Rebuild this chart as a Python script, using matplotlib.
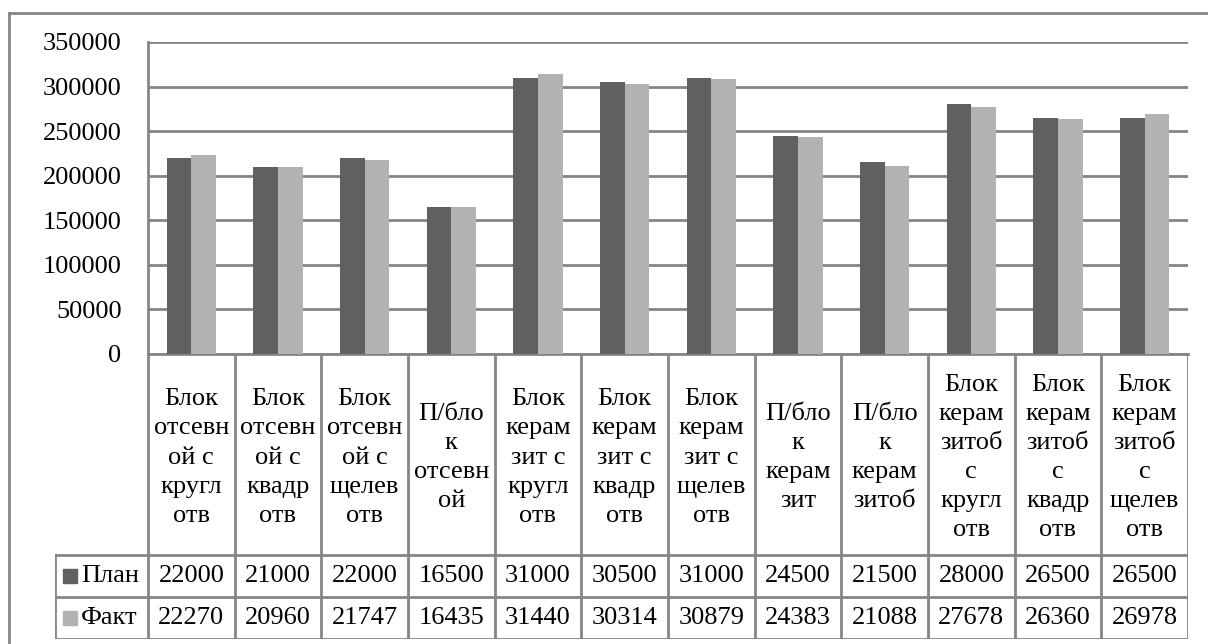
import matplotlib.pyplot as plt
from matplotlib.patches import Rectangle
from matplotlib.lines import Line2D
import numpy as np

plt.rcParams['font.family'] = ['Liberation Serif', 'DejaVu Serif']

categories = [
    'Блок\nотсевн\nой с\nкругл\nотв',
    'Блок\nотсевн\nой с\nквадр\nотв',
    'Блок\nотсевн\nой с\nщелев\nотв',
    'П/бло\nк\nотсевн\nой',
    'Блок\nкерам\nзит с\nкругл\nотв',
    'Блок\nкерам\nзит с\nквадр\nотв',
    'Блок\nкерам\nзит с\nщелев\nотв',
    'П/бло\nк\nкерам\nзит',
    'П/бло\nк\nкерам\nзитоб',
    'Блок\nкерам\nзитоб\nс\nкругл\nотв',
    'Блок\nкерам\nзитоб\nс\nквадр\nотв',
    'Блок\nкерам\nзитоб\nс\nщелев\nотв',
]
plan = [22000, 21000, 22000, 16500, 31000, 30500, 31000, 24500, 21500, 28000, 26500, 26500]
fact = [22270, 20960, 21747, 16435, 31440, 30314, 30879, 24383, 21088, 27678, 26360, 26978]
series_names = ['План', 'Факт']
yticks = [0, 50000, 100000, 150000, 200000, 250000, 300000, 350000]

# the table shows values in tens; bars are drawn on the full scale
scale = 10

W, H = 1208, 644
dark = '#606060'
light = '#b2b2b2'
grid_c = '#858585'
fs = 19

fig = plt.figure(figsize=(W / 100, H / 100), dpi=100)


def fig_rect(x0, y0, x1, y1):
    # pixel box (top-left origin) -> figure fraction [l, b, w, h]
    return [x0 / W, 1 - y1 / H, (x1 - x0) / W, (y1 - y0) / H]


# outer frame: only top and left edges
fig.add_artist(Line2D([9 / W, 1], [1 - 13 / H] * 2, color=grid_c, lw=2))
fig.add_artist(Line2D([9 / W] * 2, [0, 1 - 13 / H], color=grid_c, lw=2))

# bar area
px_l, px_r, px_t, px_b = 148, 1188, 42, 354
ax = fig.add_axes(fig_rect(px_l, px_t, px_r, px_b))
n = len(categories)
x = np.arange(n)
bw = 0.285
ax.bar(x - bw / 2, np.array(plan) * scale, bw, color=dark, zorder=3)
ax.bar(x + bw / 2, np.array(fact) * scale, bw, color=light, zorder=3)
ax.set_xlim(-0.5, n - 0.5)
ax.set_ylim(0, 350000)
ax.set_yticks(yticks)
ax.set_yticklabels([str(v) for v in yticks], fontsize=fs)
ax.tick_params(axis='y', length=0, pad=19)
ax.set_xticks([])
ax.grid(axis='y', color=grid_c, lw=2, zorder=1)
for s in ['top', 'right']:
    ax.spines[s].set_visible(False)
for s in ['left', 'bottom']:
    ax.spines[s].set_color(grid_c)
    ax.spines[s].set_linewidth(2)

# data table below the bars, sharing category positions
tb_l, tb_b = 55, 639
cat_px = (px_r - px_l) / n
left_w = (px_l - tb_l) / cat_px
tax = fig.add_axes(fig_rect(tb_l, px_b, px_r, tb_b))
tax.set_xlim(-0.5 - left_w, n - 0.5)
tax.set_ylim(tb_b - px_b, 0)
tax.axis('off')

row1 = 555 - px_b
row2 = 597 - px_b
row3 = tb_b - px_b
lk = dict(color=grid_c, lw=2, solid_capstyle='projecting')

for b in np.arange(n + 1) - 0.5:
    tax.plot([b, b], [0, row3], **lk)
tax.plot([-0.5 - left_w, -0.5 - left_w], [row1, row3], **lk)
for yy in (row1, row2, row3):
    tax.plot([-0.5 - left_w, n - 0.5], [yy, yy], **lk)

for i, name in enumerate(categories):
    tax.text(i, row1 / 2 + 3, name, ha='center', va='center', fontsize=fs,
             linespacing=1.42)
    tax.text(i, (row1 + row2) / 2, str(plan[i]), ha='center', va='center', fontsize=fs)
    tax.text(i, (row2 + row3) / 2, str(fact[i]), ha='center', va='center', fontsize=fs)

# legend keys inside the first column
for yy, col, name in [((row1 + row2) / 2, dark, series_names[0]),
                      ((row2 + row3) / 2, light, series_names[1])]:
    kx = -0.5 - left_w + 8 / cat_px
    tax.add_patch(Rectangle((kx, yy - 7), 14 / cat_px, 14, color=col))
    tax.text(kx + 18 / cat_px, yy, name, ha='left', va='center', fontsize=fs)

fig.savefig('out.png', dpi=100)
